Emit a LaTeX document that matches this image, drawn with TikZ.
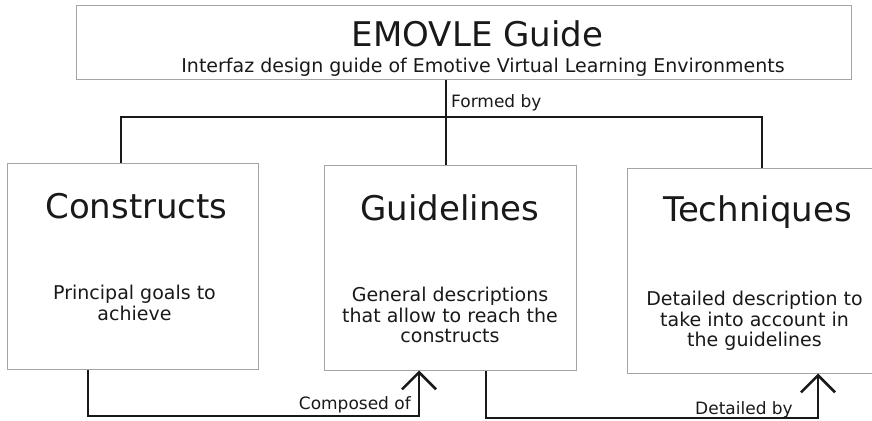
\documentclass[tikz,border=0pt]{standalone}
\usepackage{fontspec}
\setmainfont{DejaVu Sans}
\definecolor{boxgray}{RGB}{165,165,165}
\definecolor{inkgray}{RGB}{25,25,25}
\usetikzlibrary{arrows.meta}
\usetikzlibrary{positioning}

\tikzset{
  panel/.style={draw=boxgray, line width=1pt, inner sep=0pt},
  bigtitle/.style={font=\fontsize{34}{40}\selectfont, text=inkgray, anchor=base, inner sep=0pt},
  subtitle/.style={font=\fontsize{19}{22}\selectfont, text=inkgray, anchor=base, inner sep=0pt},
  desc/.style={font=\fontsize{19}{20.5}\selectfont, text=inkgray, align=center, anchor=base, inner sep=0pt},
  linklabel/.style={font=\fontsize{17}{20}\selectfont, text=inkgray, inner sep=0pt},
  link/.style={line width=2.8pt, inkgray},
  barb/.style={-{Straight Barb[length=17pt,width=34pt,line width=2.6pt]}},
}

\begin{document}
\begin{tikzpicture}[x=1pt, y=1pt]
  \useasboundingbox (0,0) rectangle (872,-420);

  % guide header
  \node[panel, minimum width=775pt, minimum height=73pt] (guide) at (463.5,-42.5) {};
  \node[bigtitle] (guidetitle) at ([xshift=14pt, yshift=-41pt]guide.north) {EMOVLE Guide};
  \node[subtitle] (guidesub) at ([xshift=19.5pt, yshift=-67pt]guide.north) {Interfaz design guide of Emotive Virtual Learning Environments};

  % the three parts (desc nodes sit on the baseline of their last line)
  \node[panel, minimum width=251pt, minimum height=206pt] (cons) at (132.5,-266) {};
  \node[bigtitle] (constitle) at ([xshift=4pt, yshift=-56pt]cons.north) {Constructs};
  \node[desc] (consdesc) at ([xshift=2pt, yshift=-157.5pt]cons.north) {Principal goals to\\achieve};

  \node[panel, minimum width=252pt, minimum height=205pt] (guid) at (450,-267.5) {};
  \node[bigtitle] (guidtitle) at ([yshift=-56pt]guid.north) {Guidelines};
  \node[desc] (guiddesc) at ([yshift=-178pt]guid.north) {General descriptions\\that allow to reach the\\constructs};

  \node[panel, minimum width=258pt, minimum height=205pt] (tech) at (756,-270.5) {};
  \node[bigtitle] (techtitle) at ([xshift=1.5pt, yshift=-54pt]tech.north) {Techniques};
  \node[desc] (techdesc) at ([xshift=-1.5pt, yshift=-179pt]tech.north) {Detailed description to\\take into account in\\the guidelines};

  % formed by
  \coordinate (forkl) at (121,-117);
  \coordinate (forkm) at (446,-117);
  \coordinate (forkr) at (762,-117);
  \draw[link] (guide.south -| forkm) -- (guid.north -| forkm);
  \draw[link] (cons.north -| forkl) -- (forkl) -- (forkr) -- (tech.north -| forkr);
  \node[linklabel, anchor=base west] (formed) at (451,-107) {Formed by};

  % composed of
  \coordinate (compl) at (88,-416);
  \coordinate (compr) at (419,-416);
  \draw[link, barb] (cons.south -| compl) -- (compl) -- (compr) -- (guid.south -| compr);
  \node[linklabel, anchor=base east] (composed) at (411,-409) {Composed of};

  % detailed by
  \coordinate (detl) at (486,-418);
  \coordinate (detr) at (818,-418);
  \draw[link, barb] (guid.south -| detl) -- (detl) -- (detr) -- (tech.south -| detr);
  \node[linklabel, anchor=base] (detailed) at (744,-414) {Detailed by};
\end{tikzpicture}
\end{document}
